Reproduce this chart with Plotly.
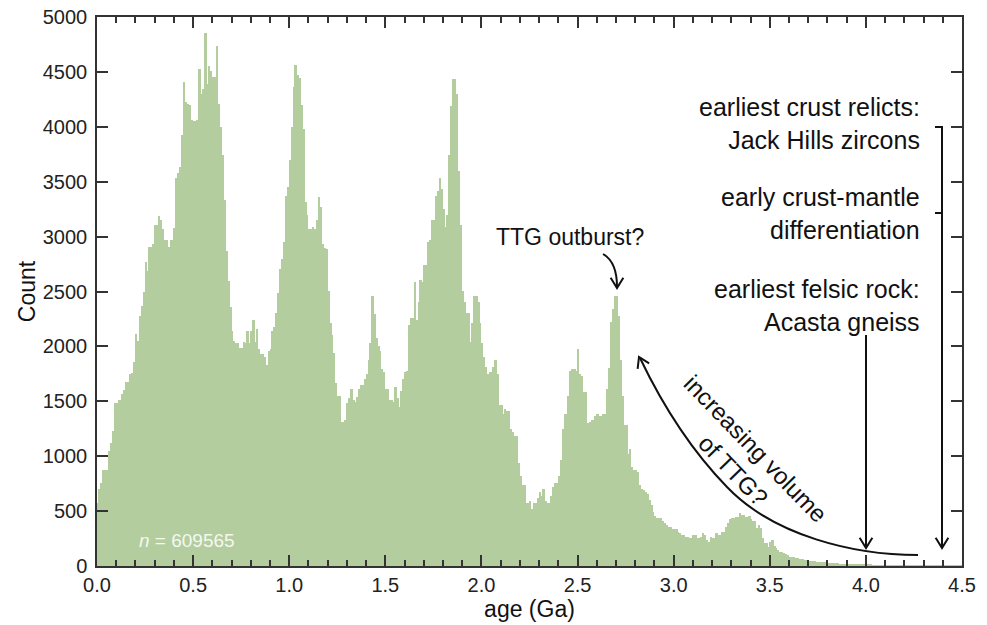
import math
import plotly.graph_objects as go

# ---------------- data ----------------
bin_width = 0.01  # Ga

counts_0_to_1_5_ga = [
    572, 700, 754, 870, 870, 870, 1050, 1124, 1233, 1488,
    1488, 1508, 1508, 1564, 1600, 1673, 1673, 1746, 1762, 1862,
    2110, 2050, 2275, 2368, 2500, 2771, 2689, 2904, 2904, 2937,
    3102, 3102, 3185, 3152, 3069, 2970, 2970, 2904, 2970, 2970,
    3079, 3532, 3580, 3631, 3929, 4408, 4226, 4210, 4200, 4061,
    4054, 4054, 4061, 4530, 4299, 4342, 4855, 4392, 4557, 4507,
    4458, 4458, 4739, 4210, 4000, 3747, 3333, 2870, 2600, 2358,
    2143, 2050, 2027, 2027, 1984, 1984, 2044, 2027, 2136, 2027,
    2143, 2242, 2044, 2159, 1978, 1928, 1928, 1900, 1829, 1961,
    1978, 2143, 2176, 2300, 2490, 2705, 2800, 2953, 3367, 3449,
    3700, 3995, 4359, 4564, 4474, 4441, 4200, 3978, 3317, 3201,
    3069, 3069, 3085, 3069, 3150, 3360, 3267, 2937, 2900, 2887,
    2507, 2209, 2100, 1944, 1663, 1548, 1548, 1316, 1316, 1333,
    1481, 1531, 1614, 1515, 1498, 1540, 1614, 1647, 1647, 1700,
    1746, 1878, 2027, 2457, 2292, 2077, 2000, 1961, 1796, 1763,
]
counts_1_5_to_3_ga = [
    1614, 1614, 1515, 1515, 1498, 1630, 1531, 1448, 1597, 1700,
    1763, 1779, 2193, 2259, 2259, 2589, 2242, 2407, 2606, 2589,
    2738, 2738, 2953, 2970, 3152, 3152, 3367, 3416, 3532, 3433,
    3251, 3085, 3201, 3747, 4187, 4431, 4431, 4300, 3598, 3102,
    2507, 2407, 2308, 2308, 2044, 2209, 2457, 2457, 2407, 2209,
    2027, 1900, 1812, 1746, 1763, 1763, 1812, 1878, 1746, 1465,
    1465, 1382, 1432, 1415, 1415, 1250, 1217, 1184, 1184, 936,
    820, 737, 737, 572, 572, 589, 522, 572, 572, 622,
    671, 638, 704, 589, 572, 572, 638, 721, 754, 754,
    820, 969, 1250, 1382, 1382, 1548, 1779, 1796, 1796, 1779,
    1978, 1746, 1730, 1581, 1581, 1300, 1316, 1333, 1333, 1366,
    1382, 1366, 1366, 1382, 1382, 1614, 1800, 2226, 2341, 2457,
    2457, 2275, 1878, 1548, 1283, 1283, 1019, 1068, 903, 870,
    870, 853, 737, 700, 688, 671, 655, 600, 556, 490,
    456, 440, 440, 440, 407, 390, 374, 357, 357, 340,
]
counts_3_to_4_5_ga = [
    334, 334, 313, 300, 282, 282, 267, 267, 252, 252,
    282, 282, 252, 252, 267, 304, 282, 240, 222, 267,
    252, 252, 298, 282, 282, 313, 313, 358, 389, 425,
    434, 434, 449, 449, 480, 464, 464, 449, 449, 455,
    425, 413, 413, 343, 373, 343, 252, 212, 212, 176,
    222, 237, 182, 160, 146, 130, 125, 115, 105, 100,
    80, 79, 85, 75, 70, 68, 62, 60, 58, 52,
    50, 48, 45, 42, 40, 38, 36, 35, 32, 30,
    28, 27, 26, 25, 24, 23, 22, 21, 20, 19,
    18, 17, 16, 16, 15, 14, 14, 13, 12, 12,
    11, 10, 10, 9, 9, 8, 8, 7, 7, 7,
    6, 6, 6, 5, 5, 5, 5, 4, 4, 4,
    4, 3, 3, 3, 3, 3, 3, 2, 2, 2,
    2, 2, 2, 2, 2, 2, 1, 1, 1, 1,
    1, 1, 1, 1, 1, 1, 1, 1, 1, 1,
]

x_tick_values = [0.0, 0.5, 1.0, 1.5, 2.0, 2.5, 3.0, 3.5, 4.0, 4.5]
x_tick_labels = ["0.0", "0.5", "1.0", "1.5", "2.0", "2.5", "3.0", "3.5", "4.0", "4.5"]
y_tick_values = [0, 500, 1000, 1500, 2000, 2500, 3000, 3500, 4000, 4500, 5000]
sample_size = 609565

counts = counts_0_to_1_5_ga + counts_1_5_to_3_ga + counts_3_to_4_5_ga
centers = [bin_width * (i + 0.5) for i in range(len(counts))]

# ---------------- layout geometry ----------------
W, H = 987, 625
L, R, T, B = 97, 962, 17, 566
XMAX, YMAX = 4.5, 5000
FONT = "Liberation Sans, Arial, Helvetica, sans-serif"
INK = "#111111"


def dx(px):
    return (px - L) / (R - L) * XMAX


def dy(py):
    return (B - py) / (B - T) * YMAX


def pt(p):
    return f"{dx(p[0]):.5f},{dy(p[1]):.3f}"


def vhead(tip, direction, length=12, half=32):
    ux, uy = direction
    n = math.hypot(ux, uy)
    ux, uy = ux / n, uy / n
    bx, by = -ux, -uy
    pts = []
    for s in (1, -1):
        a = math.radians(half) * s
        rx = bx * math.cos(a) - by * math.sin(a)
        ry = bx * math.sin(a) + by * math.cos(a)
        pts.append((tip[0] + rx * length, tip[1] + ry * length))
    return f"M {pt(pts[0])} L {pt(tip)} L {pt(pts[1])}"


fig = go.Figure()
fig.add_trace(go.Bar(
    x=centers, y=counts, width=bin_width,
    marker=dict(color="#b3cd9f", line=dict(width=0)),
    hoverinfo="skip", showlegend=False,
))

line_style = dict(color=INK, width=2)
paths = [
    # TTG outburst curly arrow
    f"M {pt((603, 254))} Q {pt((617, 262))} {pt((617, 287))}",
    vhead((617, 288), (0, 1)),
    # increasing volume of TTG curve
    f"M {pt((918, 555))} C {pt((854, 555))} {pt((774, 536))} {pt((727, 487))} "
    f"C {pt((692, 451))} {pt((662, 404))} {pt((640, 358))}",
    vhead((639, 357), (-20, -42)),
    # Acasta gneiss arrow (4.0 Ga)
    f"M {pt((866, 335))} L {pt((866, 547))}",
    vhead((866, 548), (0, 1)),
    # bracket + Jack Hills arrow (4.4 Ga)
    f"M {pt((935, 127))} L {pt((942, 127))} L {pt((942, 547))}",
    f"M {pt((935, 213))} L {pt((942, 213))}",
    vhead((942, 548), (0, 1)),
]
for p in paths:
    fig.add_shape(type="path", path=p, xref="x", yref="y", line=line_style,
                  fillcolor="rgba(0,0,0,0)", layer="above")

ann_font = dict(family=FONT, size=23, color=INK)
side_font = dict(family=FONT, size=25, color=INK)
annotations = [
    dict(x=dx(570), y=dy(237), text="TTG outburst?", font=ann_font),
    dict(x=dx(922), y=dy(123), text="earliest crust relicts:<br>Jack Hills zircons",
         xanchor="right", align="right", font=side_font),
    dict(x=dx(922), y=dy(213), text="early crust-mantle<br>differentiation",
         xanchor="right", align="right", font=side_font),
    dict(x=dx(922), y=dy(305), text="earliest felsic rock:<br>Acasta gneiss",
         xanchor="right", align="right", font=side_font),
    dict(x=dx(744), y=dy(459), text="increasing volume<br>of TTG?", textangle=46,
         font=dict(family=FONT, size=24, color=INK)),
    dict(x=dx(137), y=dy(540), text=f"<i>n</i> = {sample_size}", xanchor="left",
         font=dict(family=FONT, size=19, color="#f4f8f0")),
]
for a in annotations:
    a.update(xref="x", yref="y", showarrow=False)
    fig.add_annotation(**a)

axis_common = dict(
    showline=True, linecolor="#333333", linewidth=1.5, mirror="allticks",
    ticks="inside", tickcolor="#333333", tickwidth=1.5,
    showgrid=False, zeroline=False,
    tickfont=dict(family=FONT, size=20, color="#222222"),
)
fig.update_xaxes(
    range=[0, XMAX], tickvals=x_tick_values, ticktext=x_tick_labels, ticklen=11,
    minor=dict(dtick=0.1, ticks="inside", ticklen=6, tickcolor="#333333", tickwidth=1.5),
    title=dict(text="age (Ga)", font=dict(family=FONT, size=23, color="#111111"), standoff=6),
    **axis_common,
)
fig.update_yaxes(
    range=[0, YMAX], tickvals=y_tick_values, ticklen=11, ticklabelstandoff=4,
    title=dict(text="Count", font=dict(family=FONT, size=23, color="#111111"), standoff=1),
    **axis_common,
)
fig.update_layout(
    width=W, height=H,
    margin=dict(l=L, r=W - R, t=T, b=H - B, autoexpand=False),
    paper_bgcolor="white", plot_bgcolor="white",
    bargap=0, barmode="overlay",
    font=dict(family=FONT),
)
fig.write_html(
    "out.html",
    config={"displayModeBar": False},
    post_script="document.body.style.margin='0px';document.body.style.padding='0px';",
)
